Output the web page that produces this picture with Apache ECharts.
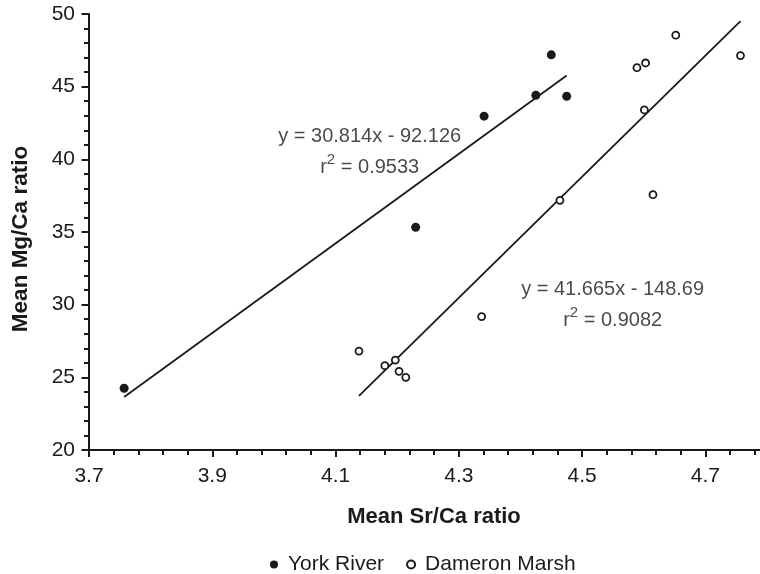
<!DOCTYPE html>
<html>
<head>
<meta charset="utf-8">
<script src="https://cdn.jsdelivr.net/npm/echarts@6/dist/echarts.min.js"></script>
<style>
html,body{margin:0;padding:0;background:#fff;}
#chart{width:760px;height:574px;}
</style>
</head>
<body>
<div id="chart"></div>
<script>
// ---- data ----
const yorkRiver = [
  [3.757, 24.25], [4.230, 35.33], [4.341, 42.97],
  [4.425, 44.41], [4.450, 47.19], [4.475, 44.34]
];
const dameronMarsh = [
  [4.138, 26.81], [4.180, 25.80], [4.197, 26.19], [4.203, 25.41],
  [4.214, 25.00], [4.337, 29.18], [4.464, 37.18], [4.589, 46.31],
  [4.601, 43.40], [4.603, 46.63], [4.615, 37.57], [4.652, 48.54],
  [4.757, 47.14]
];
const yorkTrend = [[3.757, 23.64], [4.475, 45.77]];
const dameronTrend = [[4.138, 23.72], [4.757, 49.51]];
const yorkEquation = ['y = 30.814x - 92.126', 'r{sup|2} = 0.9533'];
const dameronEquation = ['y = 41.665x - 148.69', 'r{sup|2} = 0.9082'];
const yorkEqAnchor = [[4.1554, 40.54]];
const dameronEqAnchor = [[4.5496, 29.96]];
const seriesNames = ['York River', 'Dameron Marsh'];
const xTitle = 'Mean Sr/Ca ratio';
const yTitle = 'Mean Mg/Ca ratio';

const INK = '#1a1a1a';
const FONT = '"Liberation Sans", Arial, Helvetica, sans-serif';

const chart = echarts.init(document.getElementById('chart'), null, {renderer: 'canvas'});

function eqLabel(lines) {
  return {
    show: true,
    position: 'inside',
    align: 'center',
    verticalAlign: 'middle',
    formatter: lines.join('\n'),
    color: INK,
    fontFamily: FONT,
    fontSize: 20,
    lineHeight: 31,
    rich: {
      sup: {fontSize: 15, fontFamily: FONT, color: INK, padding: [0, 0, 15, 0], lineHeight: 31}
    }
  };
}

const option = {
  animation: false,
  backgroundColor: '#fff',
  textStyle: {fontFamily: FONT, color: INK},
  grid: {left: 89, right: -7, top: 14, bottom: 124, containLabel: false, outerBoundsMode: 'none'},
  xAxis: {
    type: 'value',
    min: 3.7, max: 4.8, interval: 0.2,
    name: xTitle,
    nameLocation: 'middle',
    nameGap: 56,
    nameTextStyle: {fontFamily: FONT, fontSize: 22, fontWeight: 'bold', color: INK, padding: [0, 0, 0, 12]},
    axisLine: {show: true, onZero: false, lineStyle: {color: INK, width: 2}},
    axisTick: {show: true, inside: false, length: 7, lineStyle: {color: INK, width: 2}},
    minorTick: {show: true, splitNumber: 5, length: 5, lineStyle: {color: INK, width: 2}},
    splitLine: {show: false},
    axisLabel: {fontFamily: FONT, fontSize: 21, color: INK, margin: 16, showMaxLabel: false,
      formatter: v => v.toFixed(1)}
  },
  yAxis: {
    type: 'value',
    min: 20, max: 50, interval: 5,
    name: yTitle,
    nameLocation: 'middle',
    nameGap: 57,
    nameTextStyle: {fontFamily: FONT, fontSize: 22.5, fontWeight: 'bold', color: INK, padding: [0, 14, 0, 0]},
    axisLine: {show: true, onZero: false, lineStyle: {color: INK, width: 2}},
    axisTick: {show: true, inside: false, length: 7.5, lineStyle: {color: INK, width: 2}},
    minorTick: {show: true, splitNumber: 5, length: 5, lineStyle: {color: INK, width: 2}},
    splitLine: {show: false},
    axisLabel: {fontFamily: FONT, fontSize: 21, color: INK, margin: 14}
  },
  legend: {
    data: seriesNames,
    left: 265,
    top: 549,
    itemWidth: 8,
    itemHeight: 8,
    itemGap: 22,
    selectedMode: false,
    textStyle: {fontFamily: FONT, fontSize: 21, color: INK, padding: [0, 0, 0, 5]}
  },
  series: [
    {
      name: 'York fit', type: 'line', data: yorkTrend, symbol: 'none', silent: true,
      lineStyle: {color: INK, width: 1.8}, z: 2
    },
    {
      name: 'Dameron fit', type: 'line', data: dameronTrend, symbol: 'none', silent: true,
      lineStyle: {color: INK, width: 1.8}, z: 2
    },
    {
      name: seriesNames[0], type: 'scatter', data: yorkRiver, symbol: 'circle', symbolSize: 9,
      itemStyle: {color: INK, opacity: 1}, z: 3
    },
    {
      name: seriesNames[1], type: 'scatter', data: dameronMarsh, symbol: 'circle', symbolSize: 7,
      itemStyle: {color: '#fff', borderColor: INK, borderWidth: 1.8, opacity: 1}, z: 3
    },
    {
      name: 'York eq', type: 'scatter', data: yorkEqAnchor, symbolSize: 0, silent: true,
      label: eqLabel(yorkEquation), z: 4
    },
    {
      name: 'Dameron eq', type: 'scatter', data: dameronEqAnchor, symbolSize: 0, silent: true,
      label: eqLabel(dameronEquation), z: 4
    }
  ]
};
chart.setOption(option);
</script>
</body>
</html>
